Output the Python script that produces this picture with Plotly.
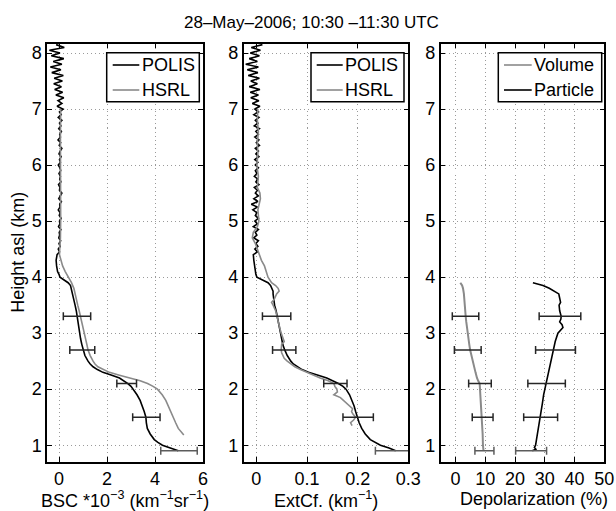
import plotly.graph_objects as go

W, H = 616, 511

# ---------------- data ----------------
# Panel 1: backscatter coefficient (BSC *1e-3 km^-1 sr^-1)
bsc_polis_h = [0.90, 0.95, 1.00, 1.05, 1.10, 1.20, 1.30, 1.40, 1.50, 1.60, 1.70, 1.80, 1.90, 2.00,
               2.05, 2.10, 2.15, 2.20, 2.25, 2.30, 2.35, 2.40, 2.45, 2.50, 2.60, 2.70, 2.80, 2.90,
               3.00, 3.10, 3.20, 3.30, 3.40, 3.50, 3.60, 3.70, 3.75, 3.80, 3.85, 3.90, 3.95, 4.00,
               4.05, 4.10, 4.20, 4.30, 4.40,
               4.45, 4.50, 4.55, 4.60, 4.65, 4.70, 4.75, 4.80, 4.85, 4.90,
               4.95, 5.00, 5.05, 5.10, 5.15, 5.20, 5.25, 5.30, 5.35, 5.40,
               5.45, 5.50, 5.55, 5.60, 5.65, 5.70, 5.75, 5.80, 5.85, 5.90,
               5.95, 6.00, 6.05, 6.10, 6.15, 6.20, 6.25, 6.30, 6.35, 6.40,
               6.45, 6.50, 6.55, 6.60, 6.65, 6.70, 6.75, 6.80, 6.85, 6.90,
               6.95, 7.00, 7.05, 7.10, 7.15, 7.20, 7.25, 7.30, 7.35, 7.40,
               7.45, 7.50, 7.55, 7.60, 7.65, 7.70, 7.75, 7.80, 7.85, 7.90,
               7.95, 8.00, 8.05, 8.10, 8.15]
bsc_polis_v = [4.97, 4.60, 4.31, 4.12, 3.97, 3.80, 3.68, 3.64, 3.62, 3.55, 3.47, 3.38, 3.25, 3.10,
               3.00, 2.87, 2.72, 2.52, 2.20, 1.83, 1.60, 1.42, 1.30, 1.21, 1.08, 1.00, 0.95, 0.90,
               0.87, 0.84, 0.80, 0.76, 0.72, 0.67, 0.62, 0.57, 0.55, 0.52, 0.48, 0.38, 0.20, 0.04,
               0.00, -0.06, -0.10, -0.12, -0.08,
               0.02, -0.03, 0.05, 0.00, 0.07, -0.01, 0.03, 0.01, 0.08, -0.02,
               0.04, 0.02, 0.09, 0.01, 0.05, -0.03, 0.04, 0.03, 0.10, -0.01,
               0.05, 0.12, 0.02, 0.04, -0.02, 0.08, 0.03, 0.06, 0.00, 0.07,
               0.04, -0.03, 0.06, 0.02, 0.09, 0.00, 0.05, 0.12, 0.01, 0.07,
               -0.04, 0.06, 0.03, 0.10, -0.01, 0.08, 0.02, 0.12, -0.03, 0.09,
               0.02, 0.17, -0.08, 0.12, -0.04, 0.20, -0.13, 0.15, -0.18, 0.10,
               -0.22, 0.14, -0.20, 0.18, -0.30, 0.08, -0.36, 0.12, -0.24, 0.20,
               -0.32, 0.04, -0.40, 0.22, -0.12]
bsc_hsrl_h = [1.18, 1.25, 1.30, 1.40, 1.50, 1.60, 1.70, 1.80, 1.90, 2.00, 2.05, 2.10, 2.15, 2.20,
              2.25, 2.30, 2.35, 2.40, 2.45, 2.50, 2.60, 2.70, 2.80, 2.90, 3.00, 3.10, 3.20, 3.30,
              3.40, 3.50, 3.60, 3.70, 3.80, 3.90, 4.00, 4.10, 4.20, 4.30, 4.40, 4.50, 4.70, 5.00,
              5.50, 6.00, 6.50, 7.00]
bsc_hsrl_v = [5.20, 5.08, 4.97, 4.86, 4.76, 4.67, 4.58, 4.45, 4.30, 4.10, 3.92, 3.69, 3.38, 3.00,
              2.52, 2.10, 1.82, 1.62, 1.50, 1.42, 1.30, 1.21, 1.16, 1.11, 1.07, 1.02, 0.96, 0.90,
              0.84, 0.78, 0.73, 0.67, 0.62, 0.52, 0.38, 0.26, 0.15, 0.07, 0.02, 0.03, 0.06, 0.07,
              0.06, 0.07, 0.06, 0.07]
bsc_err_h = [3.3, 2.7, 2.1, 1.5, 0.9]
bsc_err_c = [0.75, 0.97, 2.82, 3.64, 5.00]
bsc_err_d = [0.57, 0.52, 0.41, 0.57, 0.76]

# Panel 2: extinction coefficient (km^-1)
ext_polis_h = bsc_polis_h
ext_polis_v = [0.275, 0.262, 0.245, 0.234, 0.225, 0.215, 0.208, 0.203, 0.199, 0.196, 0.193, 0.189, 0.184, 0.177,
               0.171, 0.162, 0.152, 0.139, 0.122, 0.103, 0.090, 0.080, 0.073, 0.068, 0.061, 0.056, 0.052, 0.050,
               0.048, 0.046, 0.043, 0.041, 0.039, 0.036, 0.034, 0.033, 0.033, 0.031, 0.028, 0.023, 0.012, 0.001,
               -0.001, -0.002, -0.003, -0.005, -0.006,
               0.002, -0.003, 0.003, -0.001, 0.004, -0.005, 0.001, -0.002, 0.004, -0.006,
               0.002, -0.003, 0.004, -0.002, 0.001, -0.007, 0.002, -0.010, 0.003, -0.005,
               0.004, -0.002, 0.002, -0.004, 0.005, -0.001, 0.003, -0.004, 0.001, -0.002,
               0.004, -0.002, 0.003, -0.003, 0.005, -0.001, 0.004, -0.002, 0.006, 0.000,
               0.005, -0.003, 0.004, -0.001, 0.006, -0.004, 0.003, -0.002, 0.005, -0.005,
               0.004, -0.003, 0.007, -0.008, 0.005, -0.011, 0.004, -0.012, 0.007, -0.014,
               0.002, -0.011, 0.006, -0.016, 0.003, -0.018, 0.004, -0.021, 0.002, -0.014,
               0.006, -0.012, 0.008, -0.010, 0.012]
ext_hsrl_h = [1.35, 1.40, 1.45, 1.50, 1.55, 1.60, 1.65, 1.70, 1.75, 1.80, 1.85, 1.90, 1.95, 2.00,
              2.05, 2.10, 2.15, 2.20, 2.25, 2.30, 2.35, 2.40, 2.45, 2.50, 2.55, 2.60, 2.65, 2.70,
              2.80, 2.85, 2.90, 2.95, 3.00, 3.10, 3.20, 3.30, 3.40, 3.50, 3.55, 3.60, 3.70, 3.75,
              3.80, 3.85, 3.90, 4.00, 4.10, 4.20, 4.30, 4.40, 4.50, 4.60, 4.70, 4.80, 4.90, 5.00,
              5.20, 5.40, 5.50, 5.60, 5.80, 6.00, 6.20, 6.40, 6.60, 6.80, 7.00]
ext_hsrl_v = [0.189, 0.186, 0.192, 0.196, 0.191, 0.188, 0.190, 0.184, 0.180, 0.172, 0.166, 0.153, 0.160, 0.159,
              0.155, 0.153, 0.142, 0.126, 0.112, 0.099, 0.087, 0.076, 0.068, 0.061, 0.055, 0.052, 0.050, 0.049,
              0.050, 0.055, 0.053, 0.050, 0.049, 0.046, 0.043, 0.041, 0.038, 0.033, 0.030, 0.035, 0.040, 0.045,
              0.043, 0.038, 0.030, 0.023, 0.020, 0.016, 0.010, 0.006, 0.003, -0.002, -0.008, -0.006, 0.002, 0.005,
              0.003, 0.008, 0.007, 0.002, 0.004, 0.001, 0.003, 0.002, 0.004, 0.002, 0.003]
ext_err_h = [3.3, 2.7, 2.1, 1.5, 0.9]
ext_err_c = [0.040, 0.055, 0.156, 0.201, 0.275]
ext_err_d = [0.028, 0.023, 0.023, 0.030, 0.040]

# Panel 3: depolarization (%)
vol_h = [0.90, 1.00, 1.20, 1.40, 1.60, 1.80, 2.00, 2.10, 2.15, 2.20, 2.30, 2.40, 2.50, 2.60,
         2.70, 2.80, 2.90, 3.00, 3.10, 3.20, 3.30, 3.40, 3.50, 3.60, 3.70, 3.80, 3.85, 3.90]
vol_v = [9.4, 9.2, 9.1, 8.9, 8.8, 8.6, 8.4, 8.1, 7.6, 7.2, 6.7, 6.2, 5.8, 5.3,
         4.9, 4.6, 4.3, 4.1, 3.8, 3.6, 3.4, 3.3, 3.1, 3.0, 2.8, 2.5, 2.2, 1.6]
par_h = [0.90, 0.93, 0.96, 1.00, 1.10, 1.25, 1.40, 1.50, 1.60, 1.75, 1.90, 2.00, 2.15, 2.30,
         2.50, 2.70, 2.85, 3.00, 3.05, 3.10, 3.15, 3.20, 3.25, 3.30, 3.40, 3.50, 3.55, 3.60,
         3.65, 3.70, 3.75, 3.80, 3.85, 3.90]
par_v = [25.8, 27.0, 26.5, 26.9, 27.2, 27.7, 28.2, 28.5, 28.8, 29.2, 29.6, 30.0, 30.5, 31.1,
         31.9, 32.8, 33.5, 34.4, 35.3, 36.1, 35.8, 35.0, 35.4, 35.5, 35.0, 34.8, 35.3, 35.2,
         34.9, 34.7, 33.3, 31.5, 29.4, 26.0]
vol_err_h = [3.3, 2.7, 2.1, 1.5, 0.9]
vol_err_c = [3.35, 4.1, 8.2, 9.1, 9.7]
vol_err_d = [4.45, 4.5, 3.8, 3.5, 3.2]
par_err_h = [3.3, 2.7, 2.1, 1.5, 0.9]
par_err_c = [35.1, 33.6, 30.6, 28.6, 25.4]
par_err_d = [7.0, 6.7, 6.3, 5.7, 5.2]

title_text = "28\u2013May\u20132006; 10:30 \u201311:30 UTC"
ylabel_text = "Height asl (km)"
xlabels = ["BSC *10<sup>\u22123</sup> (km<sup>\u22121</sup>sr<sup>\u22121</sup>)",
           "ExtCf. (km<sup>\u22121</sup>)",
           "Depolarization (%)"]
legend_names = [["POLIS", "HSRL"], ["POLIS", "HSRL"], ["Volume", "Particle"]]
xticks = [[0, 2, 4, 6], [0, 0.1, 0.2, 0.3], [0, 10, 20, 30, 40, 50]]
xranges = [[-0.5, 6], [-0.025, 0.3], [-5, 50]]
yticks = [1, 2, 3, 4, 5, 6, 7, 8]
yrange = [0.7, 8.17]

# ---------------- layout helpers (pixel -> paper) ----------------
def px(x):
    return x / W

def py(y):
    return 1 - y / H

FONT = "Liberation Sans, Arial, Helvetica, sans-serif"
FS = 18
BLACK = "#000000"
GRAY = "#8a8a8a"
ERR = "#262626"
ERR_LOW = "#5c5c5c"   # lowest-level error bars are drawn lighter

xdomains = [[px(47), px(203)], [px(243.7), px(408.3)], [px(440.7), px(604.3)]]
ydomain = [py(462), py(43.5)]

fig = go.Figure()

def line(x, y, color, name, xa, ya, width=1.6):
    fig.add_trace(go.Scatter(x=x, y=y, mode="lines", name=name,
                             line=dict(color=color, width=width),
                             xaxis=xa, yaxis=ya, showlegend=False))

def errs_one(c, h, d, xa, ya, color):
    fig.add_trace(go.Scatter(x=c, y=h, mode="markers",
                             marker=dict(size=1, color="rgba(0,0,0,0)"),
                             error_x=dict(type="data", array=d, visible=True,
                                          color=color, thickness=1.5, width=4),
                             xaxis=xa, yaxis=ya, showlegend=False, hoverinfo="skip"))

def errs(c, h, d, xa, ya):
    errs_one(c[:-1], h[:-1], d[:-1], xa, ya, ERR)
    errs_one(c[-1:], h[-1:], d[-1:], xa, ya, ERR_LOW)

# Panel 1
line(bsc_polis_v, bsc_polis_h, BLACK, "POLIS", "x", "y")
line(bsc_hsrl_v, bsc_hsrl_h, GRAY, "HSRL", "x", "y")
errs(bsc_err_c, bsc_err_h, bsc_err_d, "x", "y")
# Panel 2
line(ext_polis_v, ext_polis_h, BLACK, "POLIS", "x2", "y2")
line(ext_hsrl_v, ext_hsrl_h, GRAY, "HSRL", "x2", "y2")
errs(ext_err_c, ext_err_h, ext_err_d, "x2", "y2")
# Panel 3
line(vol_v, vol_h, GRAY, "Volume", "x3", "y3", width=2.0)
line(par_v, par_h, BLACK, "Particle", "x3", "y3")
errs(vol_err_c, vol_err_h, vol_err_d, "x3", "y3")
errs(par_err_c, par_err_h, par_err_d, "x3", "y3")

axis_common = dict(showline=True, linecolor="black", linewidth=1.5, mirror="allticks",
                   ticks="inside", ticklen=5, tickcolor="black", tickwidth=1,
                   showgrid=True, gridcolor="#9a9a9a", griddash="1px,3px", gridwidth=1,
                   zeroline=False, tickfont=dict(size=FS, color="black", family=FONT),
                   fixedrange=True)

layout = dict(width=W, height=H, paper_bgcolor="white", plot_bgcolor="white",
              margin=dict(l=0, r=0, t=0, b=0, autoexpand=False),
              font=dict(family=FONT, size=FS, color="black"),
              showlegend=False)

for i in range(3):
    sx = "" if i == 0 else str(i + 1)
    layout["xaxis" + sx] = dict(axis_common, domain=xdomains[i], range=xranges[i],
                                tickvals=xticks[i], ticktext=[str(t) for t in xticks[i]],
                                anchor="y" + sx)
    layout["yaxis" + sx] = dict(axis_common, domain=ydomain, range=yrange,
                                tickvals=yticks, anchor="x" + sx)

annotations = [
    dict(text=title_text, x=px(312), y=py(22), xref="paper", yref="paper",
         showarrow=False, xanchor="center", yanchor="middle", font=dict(size=FS - 1)),
    dict(text=ylabel_text, x=px(18), y=py(252.7), xref="paper", yref="paper",
         showarrow=False, textangle=-90, xanchor="center", yanchor="middle"),
]
xlab_centers = [125, 326, 534]
for i in range(3):
    annotations.append(dict(text=xlabels[i], x=px(xlab_centers[i]), y=py(499),
                            xref="paper", yref="paper", showarrow=False,
                            xanchor="center", yanchor="middle"))

# in-panel legend boxes (MATLAB style): box, line samples, labels
legend_boxes = [(106.7, 199.3, 112.7, 139.3, 139.5),
                (311.0, 404.0, 316.7, 342.7, 343.0),
                (498.3, 601.7, 504.0, 531.7, 531.5)]
legend_colors = [[BLACK, GRAY], [BLACK, GRAY], [GRAY, BLACK]]
row_y = [65.0, 90.0]
shapes = []
for i, (bx0, bx1, lx0, lx1, tx) in enumerate(legend_boxes):
    shapes.append(dict(type="rect", xref="paper", yref="paper", layer="above",
                       x0=px(bx0), x1=px(bx1), y0=py(101.7), y1=py(52.7),
                       line=dict(color="black", width=1.5), fillcolor="white"))
    for j in range(2):
        shapes.append(dict(type="line", xref="paper", yref="paper", layer="above",
                           x0=px(lx0), x1=px(lx1), y0=py(row_y[j]), y1=py(row_y[j]),
                           line=dict(color=legend_colors[i][j], width=1.6)))
        annotations.append(dict(text=legend_names[i][j], x=px(tx), y=py(row_y[j]),
                                xref="paper", yref="paper", showarrow=False,
                                xanchor="left", yanchor="middle"))
layout["annotations"] = annotations
layout["shapes"] = shapes

fig.update_layout(**layout)
fig.write_html("out.html", config={"displayModeBar": False},
               post_script="document.body.style.margin='0px';document.body.style.overflow='hidden';")
